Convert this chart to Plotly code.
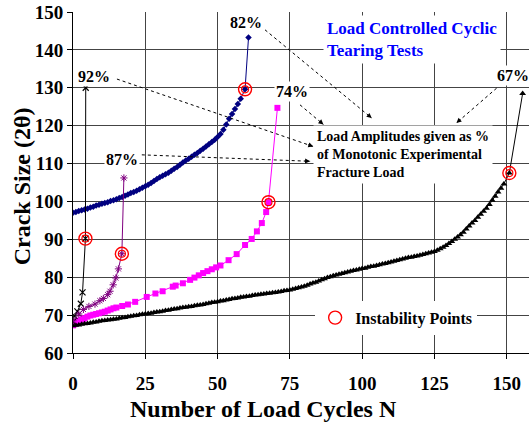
import plotly.graph_objects as go

# ---- data: crack size (2θ, degrees) against number of load cycles ----
# 82 % load amplitude
cyc_82 = list(range(59)) + [59.5, 60.7]
crack_82 = [
    97.0, 97.2, 97.5, 97.7, 97.9, 98.1, 98.4, 98.6, 98.9, 99.1,
    99.4, 99.6, 99.8, 100.1, 100.3, 100.6, 100.9, 101.2, 101.5, 101.8,
    102.2, 102.5, 102.8, 103.2, 103.6, 104.0, 104.4, 104.9, 105.4, 105.9,
    106.4, 106.8, 107.2, 107.6, 108.1, 108.6, 109.1, 109.7, 110.3, 110.8,
    111.3, 111.8, 112.3, 112.8, 113.4, 113.9, 114.5, 115.1, 115.7, 116.3,
    117.0, 117.8, 118.9, 120.3, 121.8, 123.1, 124.4, 125.7, 127.1,
    129.6, 143.3,
]

# 74 % load amplitude
cyc_74 = [
    0, 0.5, 1, 1.5, 2, 2.5, 3, 3.5, 4, 5, 6, 7, 8, 9, 10, 11, 12, 13, 14, 15,
    17, 19, 21.5, 25.5, 28.5, 31, 34.5, 35.5, 38, 40.5, 42, 43.5, 45, 46.5,
    48, 49.5, 51, 53.8, 56.6, 59.5, 61.8, 63.6, 65.3, 66.8, 67.6, 70.7,
]
crack_74 = [
    67.3, 67.6, 67.9, 68.1, 68.4, 68.6, 68.8, 69.0, 69.2, 69.6, 69.9, 70.1,
    70.3, 70.5, 70.7, 70.9, 71.2, 71.5, 71.8, 72.0, 72.4, 72.8, 73.5, 74.8,
    75.7, 76.3, 77.5, 77.8, 78.4, 79.3, 79.9, 80.5, 81.1, 81.6, 82.1, 82.6,
    83.1, 84.5, 86.1, 88.5, 90.1, 92.1, 94.3, 97.2, 99.8, 124.7,
]

# 67 % load amplitude
cyc_67 = list(range(150)) + [150.9, 155.5]
crack_67 = [
    67.2, 67.3, 67.4, 67.6, 67.7, 67.8, 67.9, 68.1, 68.2, 68.4,
    68.5, 68.6, 68.7, 68.8, 68.9, 69.0, 69.2, 69.3, 69.4, 69.6,
    69.7, 69.8, 69.9, 70.1, 70.2, 70.3, 70.4, 70.5, 70.7, 70.8,
    70.9, 71.0, 71.2, 71.3, 71.5, 71.6, 71.7, 71.9, 72.0, 72.1,
    72.2, 72.3, 72.5, 72.6, 72.7, 72.8, 73.0, 73.1, 73.3, 73.4,
    73.5, 73.7, 73.8, 74.0, 74.1, 74.3, 74.4, 74.5, 74.7, 74.8,
    74.9, 75.0, 75.2, 75.3, 75.4, 75.5, 75.6, 75.7, 75.8, 75.9,
    76.0, 76.1, 76.2, 76.4, 76.5, 76.6, 76.8, 77.0, 77.2, 77.4,
    77.6, 77.9, 78.2, 78.5, 78.7, 79.0, 79.3, 79.6, 79.9, 80.1,
    80.4, 80.6, 80.8, 81.0, 81.2, 81.4, 81.6, 81.8, 81.9, 82.1,
    82.3, 82.4, 82.6, 82.8, 82.9, 83.1, 83.3, 83.5, 83.6, 83.8,
    84.0, 84.2, 84.4, 84.6, 84.8, 85.0, 85.2, 85.3, 85.5, 85.6,
    85.8, 86.0, 86.2, 86.4, 86.6, 86.8, 87.1, 87.5, 87.9, 88.4,
    88.9, 89.4, 90.0, 90.6, 91.2, 91.9, 92.7, 93.5, 94.3, 95.0,
    95.8, 96.6, 97.4, 98.2, 99.2, 100.3, 101.4, 102.5, 103.5, 104.6,
    107.5, 128.5,
]

# 92 % load amplitude
cyc_92 = [0, 0.5, 1.5, 2.7, 3.3, 4.3, 4.4]
crack_92 = [68.3, 69.8, 71.0, 73.0, 76.0, 90.2, 130.0]

# 87 % load amplitude
cyc_87 = [0, 2, 3.6, 5.5, 7.6, 9.3, 10.5, 12.0, 12.8, 13.9, 14.8, 15.7, 16.9, 17.6]
crack_87 = [68.5, 70.3, 71.5, 72.3, 72.9, 73.8, 74.4, 75.4, 76.3, 78.0, 79.8,
            82.2, 86.2, 106.2]

x_ticks = [0, 25, 50, 75, 100, 125, 150]
y_ticks = [60, 70, 80, 90, 100, 110, 120, 130, 140, 150]

FONT = "Liberation Serif"

series = [
    (cyc_82, crack_82, "82%", "#000080", dict(symbol="diamond", size=5)),
    (cyc_74, crack_74, "74%", "#FF00FF", dict(symbol="square", size=6)),
    (cyc_67, crack_67, "67%", "#000000", dict(symbol="triangle-up", size=6)),
    (cyc_92, crack_92, "92%", "#000000",
     dict(symbol="x-thin", size=6, line=dict(width=1.2, color="#000000"))),
    (cyc_87, crack_87, "87%", "#800080",
     dict(symbol="asterisk", size=6, line=dict(width=1, color="#800080"))),
]

fig = go.Figure()
for xs, ys, name, color, mk in series:
    mk = dict(mk)
    mk.setdefault("color", color)
    fig.add_trace(go.Scatter(
        x=xs, y=ys, mode="lines+markers", name=name, showlegend=False,
        line=dict(color=color, width=1), marker=mk,
    ))

# instability point of each test = the second-last recorded cycle
inst_x = [s[0][-2] for s in series]
inst_y = [s[1][-2] for s in series]
fig.add_trace(go.Scatter(
    x=inst_x, y=inst_y, mode="markers", name="Instability Points",
    marker=dict(symbol="circle-open", size=13, color="#FF0000",
                line=dict(width=1.4, color="#FF0000")),
))
fig.add_trace(go.Scatter(
    x=inst_x, y=inst_y, mode="markers", showlegend=False, hoverinfo="skip",
    marker=dict(symbol="circle-open", size=7, color="#FF0000",
                line=dict(width=1.2, color="#FF0000")),
))

axis_common = dict(
    showgrid=True, gridcolor="#444444", gridwidth=1,
    showline=True, linecolor="#000000", linewidth=1,
    ticks="outside", ticklen=5, tickcolor="#000000",
    tickfont=dict(family=FONT, size=19, weight="bold", color="#000000"),
    zeroline=False,
)
fig.update_xaxes(range=[0, 157.7], tickvals=x_ticks, ticklabelstandoff=8,
                 **axis_common)
fig.update_yaxes(range=[60, 150], tickvals=y_ticks, ticklabelstandoff=0,
                 **axis_common)

ann = []
# axis titles
ann.append(dict(xref="paper", yref="paper", x=0.417, y=-0.163,
                text="Number of Load Cycles N", showarrow=False,
                xanchor="center", yanchor="middle",
                font=dict(family=FONT, size=24, weight="bold")))
ann.append(dict(xref="paper", yref="paper", x=-0.111, y=0.49,
                text="Crack Size (2θ)", showarrow=False, textangle=-90,
                xanchor="center", yanchor="middle",
                font=dict(family=FONT, size=24, weight="bold")))
# chart title
ann.append(dict(xref="x", yref="y", x=86.5, y=149.3, xanchor="left", yanchor="top",
                align="left", showarrow=False, bgcolor="white", borderpad=3,
                text="Load Controlled Cyclic<br>Tearing Tests",
                font=dict(family=FONT, size=17, weight="bold", color="#0000FF")))
# note box
ann.append(dict(xref="x", yref="y", x=83.0, y=120.3, xanchor="left", yanchor="top",
                align="left", showarrow=False, bgcolor="white", borderpad=3,
                text="Load Amplitudes given as %<br>of Monotonic Experimental"
                     "<br>Fracture Load",
                font=dict(family=FONT, size=14, weight="bold")))

# amplitude labels: (text, label x, label y, line start, line end, head offset px)
labels = [
    ("82%", 60.0, 147.2, (66.4, 145.3), (103.3, 122.0), (-5.4, -4.5)),
    ("92%", 7.4, 132.9, (15.2, 132.3), (83.1, 114.5), (-6.6, -2.3)),
    ("87%", 17.1, 111.2, (23.8, 112.3), (82.0, 110.6), (-7.0, -0.3)),
    ("74%", 75.6, 129.0, (78.5, 125.5), (86.6, 120.3), (-5.3, -4.6)),
    ("67%", 152.2, 133.2, (146.5, 129.9), (132.6, 120.7), (5.3, -4.6)),
]
shapes = []
for text, lx, ly, p0, p1, off in labels:
    shapes.append(dict(type="line", xref="x", yref="y", x0=p0[0], y0=p0[1],
                       x1=p1[0], y1=p1[1], line=dict(color="#000000", width=1, dash="dot")))
    ann.append(dict(xref="x", yref="y", x=p1[0], y=p1[1], text="", showarrow=True,
                    ax=off[0], ay=off[1], arrowhead=2, arrowsize=1, arrowwidth=1,
                    arrowcolor="#000000", standoff=0))
    ann.append(dict(xref="x", yref="y", x=lx, y=ly, text=text, showarrow=False,
                    bgcolor="white", borderpad=1,
                    font=dict(family=FONT, size=16, weight="bold")))

fig.update_layout(
    width=529, height=423,
    margin=dict(l=73, r=0, t=12, b=70),
    plot_bgcolor="white", paper_bgcolor="white",
    font=dict(family=FONT, color="#000000"),
    showlegend=True,
    legend=dict(x=0.531, y=0.1035, xanchor="left", yanchor="middle",
                bgcolor="white", borderwidth=0,
                font=dict(family=FONT, size=16, weight="bold")),
    annotations=ann, shapes=shapes,
)

fig.write_html("out.html")
